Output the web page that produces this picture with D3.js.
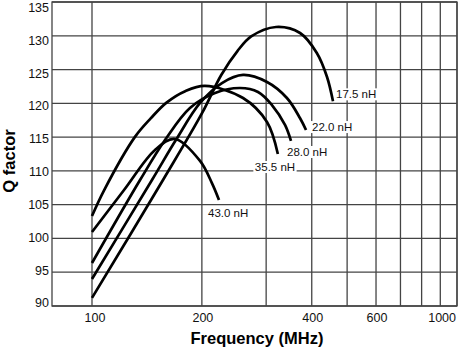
<!DOCTYPE html>
<html>
<head>
<meta charset="utf-8">
<script src="https://cdn.jsdelivr.net/npm/d3@7/dist/d3.min.js"></script>
<style>
  html, body { margin: 0; padding: 0; background: #fff; }
  svg { display: block; font-family: "Liberation Sans", Arial, Helvetica, sans-serif; }
</style>
</head>
<body>
<svg id="chart" width="460" height="350"></svg>
<script>
// ---------- data ----------
const gridFreqs = [100, 200, 300, 400, 500, 600, 700, 800, 900, 1000];
const freqLabels = [100, 200, 400, 600, 1000];
const qTicks = [90, 95, 100, 105, 110, 115, 120, 125, 130, 135];

const seriesNames = ["17.5 nH", "22.0 nH", "28.0 nH", "35.5 nH", "43.0 nH"];

const freq175 = [100, 156.5, 200, 226, 250, 273, 319.2, 371.5, 413, 440.5, 457.4];
const q175    = [91.2, 108.65, 118.5, 124.2, 127.7, 129.9, 131.3, 130.41, 127.45, 123.9, 120.3];

const freq220 = [100, 146, 169.9, 197.7, 227, 259.3, 301.6, 342, 371.3, 385.8];
const q220    = [94.0, 108.65, 114.6, 120.05, 123.0, 124.2, 123.16, 120.79, 117.83, 116.05];

const freq280 = [100, 135.4, 158.5, 185.5, 217.3, 254.4, 285, 311.2, 337.9, 350.9];
const q280    = [96.37, 108.65, 114.57, 119.31, 121.53, 122.27, 121.68, 119.75, 116.8, 114.43];

const freq355 = [100, 108, 131, 145, 160, 180, 204, 259.3, 301.6, 323];
const q355    = [103.33, 107.17, 115.0, 117.8, 120.1, 121.8, 122.57, 120.79, 117.24, 112.5];

const freq430 = [100, 122.4, 148.8, 168.8, 197.7, 213.1, 222.8];
const q430    = [100.96, 107.17, 113.1, 114.72, 111.47, 108.2, 105.7];

const seriesFreqs = [freq175, freq220, freq280, freq355, freq430];
const seriesQs = [q175, q220, q280, q355, q430];

// ---------- layout ----------
const svg = d3.select("#chart");
const pLeft = 52, pRight = 457, pTop = 2, pBottom = 306;

const x = d3.scaleLog().domain([77.7, 1000]).range([pLeft, pRight]);
const y = d3.scaleLinear().domain([90, 135]).range([pBottom, pTop]);
// tick labels in the original sit on a slightly tighter spacing
const yLab = d3.scaleLinear().domain([90, 135]).range([303, 7.5]);

const gridColor = "#444";

// frame
svg.append("rect")
  .attr("x", pLeft).attr("y", pTop)
  .attr("width", pRight - pLeft).attr("height", pBottom - pTop)
  .attr("fill", "none").attr("stroke", gridColor).attr("stroke-width", 1.3);

// vertical grid
svg.append("g").selectAll("line").data(gridFreqs).join("line")
  .attr("x1", d => x(d)).attr("x2", d => x(d))
  .attr("y1", pTop).attr("y2", pBottom)
  .attr("stroke", gridColor).attr("stroke-width", 1.3);

// horizontal grid
svg.append("g").selectAll("line").data(qTicks).join("line")
  .attr("x1", pLeft).attr("x2", pRight)
  .attr("y1", d => y(d)).attr("y2", d => y(d))
  .attr("stroke", gridColor).attr("stroke-width", 1.3);

// y tick labels
svg.append("g").selectAll("text").data(qTicks).join("text")
  .attr("x", pLeft - 3)
  .attr("y", d => yLab(d))
  .attr("dy", "0.35em")
  .attr("text-anchor", "end")
  .attr("font-size", 12.5)
  .attr("fill", "#111")
  .text(d => d);

// x tick labels
svg.append("g").selectAll("text").data(freqLabels).join("text")
  .attr("x", d => d === 1000 ? x(d) - 1 : (d === 100 ? x(d) + 3 : x(d) + 1))
  .attr("y", 322)
  .attr("text-anchor", d => d === 1000 ? "end" : "middle")
  .attr("font-size", 12.5)
  .attr("fill", "#111")
  .text(d => d);

// axis titles
svg.append("text")
  .attr("x", 257).attr("y", 344)
  .attr("text-anchor", "middle")
  .attr("font-size", 16.5).attr("font-weight", "bold")
  .text("Frequency (MHz)");

svg.append("text")
  .attr("transform", "translate(15,161) rotate(-90)")
  .attr("text-anchor", "middle")
  .attr("font-size", 16.5).attr("font-weight", "bold")
  .text("Q factor");

// curves
const line = d3.line()
  .x(d => x(d[0])).y(d => y(d[1]))
  .curve(d3.curveCatmullRom.alpha(0.5));

const seriesData = seriesNames.map((name, i) => ({
  name,
  pts: seriesFreqs[i].map((f, j) => [f, seriesQs[i][j]])
}));

svg.append("g").selectAll("path").data(seriesData).join("path")
  .attr("d", d => line(d.pts))
  .attr("fill", "none")
  .attr("stroke", "#000")
  .attr("stroke-width", 2.7)
  .attr("stroke-linecap", "butt");

// labels next to curve ends (pixel offsets from the end point)
const labelOffsets = [[3, -7], [6, -3], [-4, 11], [-23, 13], [-11, 13]];
const labG = svg.append("g");
seriesData.forEach((s, i) => {
  const end = s.pts[s.pts.length - 1];
  const lx = x(end[0]) + labelOffsets[i][0];
  const ly = y(end[1]) + labelOffsets[i][1];
  const g = labG.append("g");
  const t = g.append("text")
    .attr("x", lx).attr("y", ly).attr("dy", "0.35em")
    .attr("font-size", 11.5).attr("fill", "#111")
    .text(s.name);
  const bb = t.node().getBBox();
  g.insert("rect", "text")
    .attr("x", bb.x - 1.5).attr("y", bb.y)
    .attr("width", bb.width + 3).attr("height", bb.height)
    .attr("fill", "#fff");
});
</script>
</body>
</html>
